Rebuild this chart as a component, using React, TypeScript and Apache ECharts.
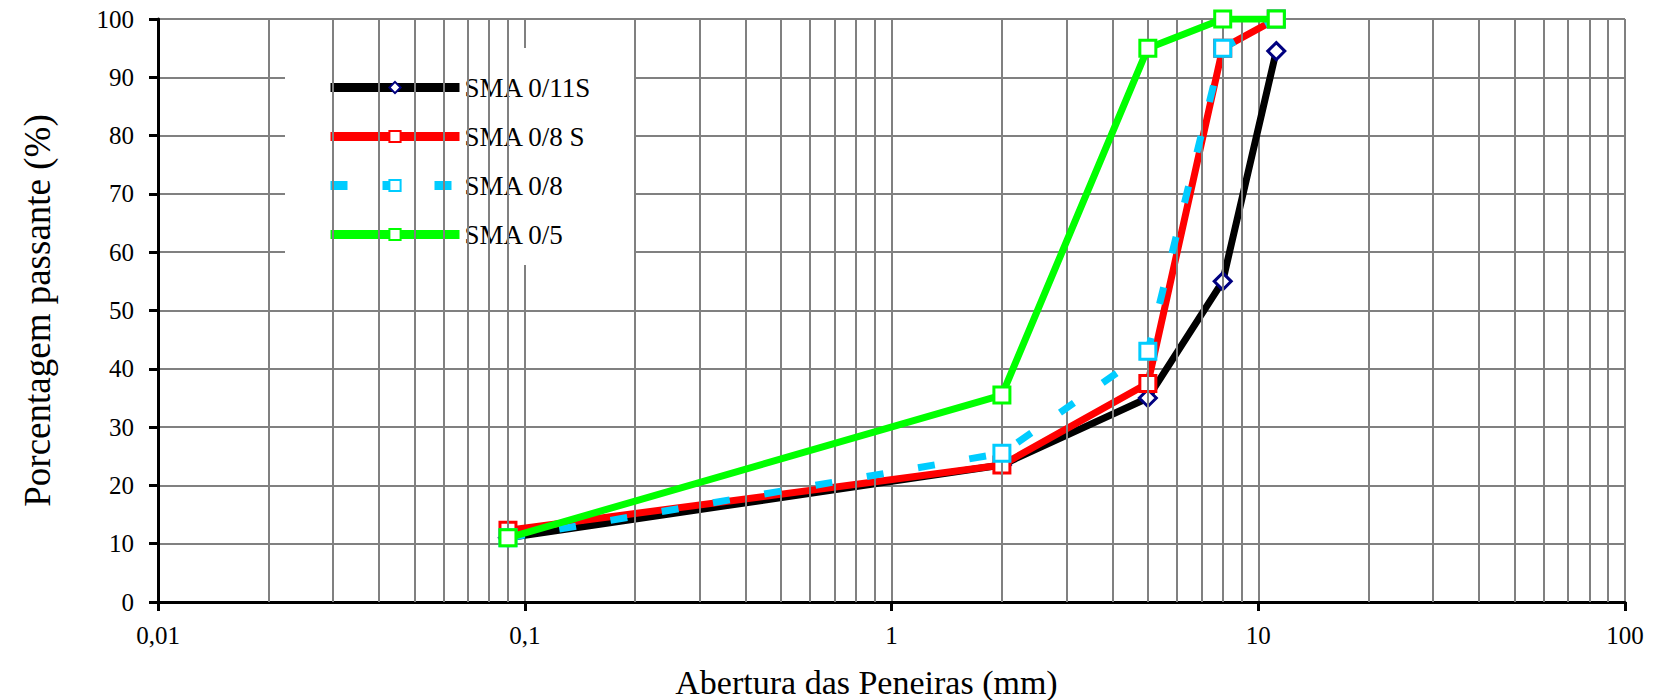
import React, { useEffect, useRef } from "react";
import * as echarts from "echarts";

const sieves = [0.09, 2, 5, 8, 11.2];
const sma011S = [11, 23.5, 35, 55, 94.5];
const sma08S = [12.3, 23.5, 37.5, 95, 100];
const sma08 = [11, 25.5, 43, 95, 100];
const sma05 = [11, 35.5, 95, 100, 100];
const seriesNames = ["SMA 0/11S", "SMA 0/8 S", "SMA 0/8", "SMA 0/5"];
const minorGridValues = [
  0.02, 0.03, 0.04, 0.05, 0.06, 0.07, 0.08, 0.09,
  0.2, 0.3, 0.4, 0.5, 0.6, 0.7, 0.8, 0.9,
  2, 3, 4, 5, 6, 7, 8, 9,
  20, 30, 40, 50, 60, 70, 80, 90,
];

const FONT = '"Liberation Serif", "Times New Roman", serif';
const GRID_COLOR = "#808080";

function pairs(vals: number[]) {
  return sieves.map((s, i) => [s, vals[i]]);
}

export default function App() {
  const ref = useRef<HTMLDivElement>(null);
  useEffect(() => {
    if (!ref.current) return;
    const chart = echarts.init(ref.current, undefined, { renderer: "svg" });
    chart.setOption({
      animation: false,
      backgroundColor: "#ffffff",
      grid: {
        left: 158,
        right: 32,
        top: 19,
        bottom: 98,
        containLabel: false,
        outerBoundsMode: "none",
      },
      legend: {
        data: seriesNames,
        orient: "vertical",
        left: 285,
        top: 48,
        backgroundColor: "#ffffff",
        padding: [26, 44, 17, 41],
        itemWidth: 129,
        itemHeight: 14,
        itemGap: 22,
        selectedMode: false,
        lineStyle: { width: 9 },
        textStyle: { fontFamily: FONT, fontSize: 27, lineHeight: 26, color: "#000" },
      },
      xAxis: {
        type: "log",
        logBase: 10,
        min: 0.01,
        max: 100,
        name: "Abertura das Peneiras (mm)",
        nameLocation: "middle",
        nameGap: 63,
        nameTextStyle: {
          fontFamily: FONT,
          fontSize: 34,
          lineHeight: 34,
          color: "#000",
          padding: [0, 50, 0, 0],
        },
        axisLine: { show: true, onZero: false, lineStyle: { color: "#000", width: 3 } },
        axisTick: { show: true, inside: false, length: 9, lineStyle: { color: "#000", width: 3 } },
        axisLabel: {
          fontFamily: FONT,
          fontSize: 25,
          color: "#000",
          margin: 21,
          formatter: (v: number) => String(v).replace(".", ","),
        },
        splitLine: { show: true, lineStyle: { color: GRID_COLOR, width: 2 } },
        minorTick: { show: false },
        minorSplitLine: { show: false },
      },
      yAxis: {
        type: "value",
        min: 0,
        max: 100,
        interval: 10,
        name: "Porcentagem passante (%)",
        nameLocation: "middle",
        nameGap: 102,
        nameTextStyle: { fontFamily: FONT, fontSize: 37, color: "#000" },
        axisLine: { show: true, lineStyle: { color: "#000", width: 3 } },
        axisTick: { show: true, inside: false, length: 9, lineStyle: { color: "#000", width: 3 } },
        axisLabel: { fontFamily: FONT, fontSize: 25, color: "#000", margin: 24 },
        splitLine: { show: true, lineStyle: { color: GRID_COLOR, width: 2 } },
      },
      series: [
        {
          name: "grid",
          type: "line",
          data: [],
          z: 0,
          silent: true,
          markLine: {
            silent: true,
            symbol: "none",
            label: { show: false },
            lineStyle: { color: GRID_COLOR, width: 2, type: "solid" },
            data: minorGridValues.map((v) => ({ xAxis: v })),
          },
        },
        {
          name: seriesNames[0],
          type: "line",
          z: 3,
          data: pairs(sma011S),
          lineStyle: { color: "#000000", width: 7 },
          itemStyle: { color: "#ffffff", borderColor: "#000080", borderWidth: 3 },
          symbol: "diamond",
          symbolSize: 17,
          showAllSymbol: true,
        },
        {
          name: seriesNames[1],
          type: "line",
          z: 4,
          data: pairs(sma08S),
          lineStyle: { color: "#ff0000", width: 7 },
          itemStyle: { color: "#ffffff", borderColor: "#ff0000", borderWidth: 3 },
          symbol: "rect",
          symbolSize: 16,
        },
        {
          name: seriesNames[2],
          type: "line",
          z: 5,
          data: pairs(sma08),
          lineStyle: { color: "#00ccff", width: 7, type: [17, 35], cap: "butt" },
          itemStyle: { color: "#ffffff", borderColor: "#00ccff", borderWidth: 3 },
          symbol: "rect",
          symbolSize: 16,
        },
        {
          name: seriesNames[3],
          type: "line",
          z: 6,
          data: pairs(sma05),
          lineStyle: { color: "#00ff00", width: 7 },
          itemStyle: { color: "#ffffff", borderColor: "#00ff00", borderWidth: 3 },
          symbol: "rect",
          symbolSize: 16,
        },
      ],
    });
    return () => chart.dispose();
  }, []);
  return (
    <div
      ref={ref}
      style={{ position: "fixed", left: 0, top: 0, width: 1657, height: 700, background: "#fff" }}
    />
  );
}
